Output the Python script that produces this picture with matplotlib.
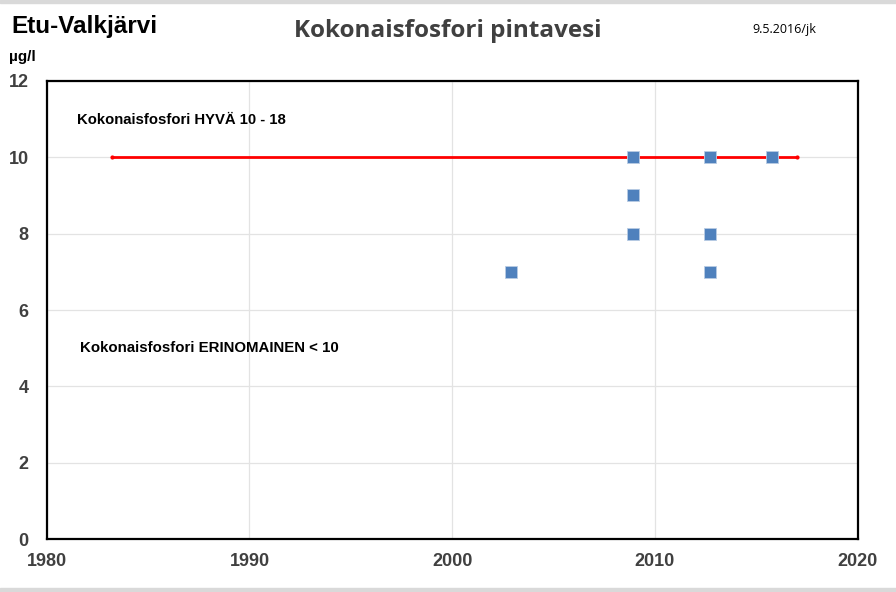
import matplotlib.pyplot as plt
import matplotlib.patches as patches

# measured total phosphorus, surface water (ug/l)
years = [2002.9, 2008.9, 2008.9, 2008.9, 2012.7, 2012.7, 2012.7, 2015.8]
values = [7, 10, 9, 8, 10, 8, 7, 10]

# class limit line (good / excellent boundary)
limit_x = [1983.2, 2017.0]
limit_y = [10, 10]

xticks = [1980, 1990, 2000, 2010, 2020]
yticks = [0, 2, 4, 6, 8, 10, 12]

plt.rcParams['font.family'] = ['Liberation Sans', 'DejaVu Sans']

fig = plt.figure(figsize=(8.96, 5.92), dpi=100)
ax = fig.add_axes([0.0522, 0.0895, 0.9049, 0.7737])

ax.plot(limit_x, limit_y, '-', color='#ff0000', linewidth=2, zorder=3)
ax.plot(limit_x, limit_y, 'o', color='#ff0000', markersize=2, zorder=3)
ax.plot(years, values, 's', color='#4f81bd', markersize=9.2,
        markeredgecolor='#b8cce4', markeredgewidth=0.6, linestyle='none', zorder=4)

ax.set_xlim(1980, 2020)
ax.set_ylim(0, 12)
ax.set_xticks(xticks)
ax.set_yticks(yticks)
ax.grid(True, color='#e3e3e3', linewidth=0.9)
ax.set_axisbelow(True)
ax.tick_params(length=0, labelsize=13, colors='#404040', pad=10)
ax.tick_params(axis='y', pad=13)
for lbl in ax.get_xticklabels() + ax.get_yticklabels():
    lbl.set_fontweight('bold')
for sp in ax.spines.values():
    sp.set_color('black')
    sp.set_linewidth(1.6)

ax.text(0.037, 0.915, 'Kokonaisfosfori HYVÄ 10 - 18', transform=ax.transAxes,
        fontsize=10.7, fontweight='bold', va='center')
ax.text(0.041, 0.418, 'Kokonaisfosfori ERINOMAINEN < 10', transform=ax.transAxes,
        fontsize=10.8, fontweight='bold', va='center')

fig.text(11/896, 1-26/592, 'Etu-Valkjärvi', fontsize=17.5, fontweight='bold', va='center')
fig.text(9/896, 1-57/592, 'µg/l', fontsize=11, fontweight='bold', va='center')
fig.text(448/896, 1-31/592, 'Kokonaisfosfori pintavesi', fontsize=17.5, fontweight='bold',
         color='#404040', ha='center', va='center', family=['Open Sans', 'DejaVu Sans'])
fig.text(752/896, 1-29/592, '9.5.2016/jk', fontsize=9, va='center',
         family=['Open Sans', 'DejaVu Sans'])

# light grey edge strips
fig.patches.append(patches.Rectangle((0, 1-3/592), 1, 3/592, transform=fig.transFigure,
                                     color='#d9d9d9', zorder=0))
fig.patches.append(patches.Rectangle((0, 0), 1, 4/592, transform=fig.transFigure,
                                     color='#d9d9d9', zorder=0))

fig.savefig('out.png', dpi=100)
